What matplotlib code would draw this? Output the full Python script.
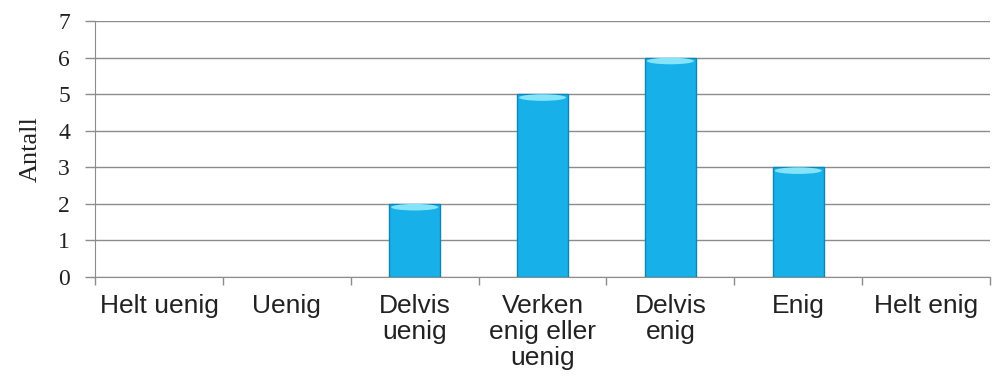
import numpy as np
import matplotlib.pyplot as plt
from matplotlib.patches import Ellipse

categories = ["Helt uenig", "Uenig", "Delvis\nuenig", "Verken\nenig eller\nuenig",
              "Delvis\nenig", "Enig", "Helt enig"]
counts = [0, 0, 2, 5, 6, 3, 0]
y_ticks = [0, 1, 2, 3, 4, 5, 6, 7]

grid_color = "#8c8c8c"
bar_color = "#17b0e8"
bar_edge = "#0d86b6"

fig = plt.figure(figsize=(9.95, 3.85), dpi=100)
ax = fig.add_axes([0.0955, 0.2805, 0.8995, 0.6645])

x = np.arange(len(categories))
bar_w = 0.40
edge_w = [1.0 if c > 0 else 0 for c in counts]
bars = ax.bar(x, counts, width=bar_w, color=bar_color, edgecolor=bar_edge,
              linewidth=edge_w, zorder=3)

# light cap on top of each bar
for rect, c in zip(bars, counts):
    if c <= 0:
        continue
    cx = rect.get_x() + rect.get_width() / 2
    ax.add_patch(Ellipse((cx, c - 0.09), rect.get_width() * 0.92, 0.18,
                         facecolor="#86e4fa", edgecolor="none", zorder=4))

ax.set_xlim(-0.5, len(categories) - 0.5)
ax.set_ylim(0, 7)

ax.set_yticks(y_ticks)
ax.set_yticklabels([str(v) for v in y_ticks], fontfamily="Liberation Serif",
                   fontsize=17, color="#222222")
ax.yaxis.grid(True, color=grid_color, linewidth=1.0, zorder=0)
ax.tick_params(axis="y", length=7, width=1, color=grid_color, pad=11)

# boundary ticks below the axis, labels centred on the categories
ax.set_xticks(np.arange(len(categories) + 1) - 0.5)
ax.set_xticklabels([])
ax.set_xticks(x, minor=True)
ax.set_xticklabels(categories, minor=True, fontfamily="Liberation Sans",
                   fontsize=19, color="#222222", linespacing=1.12)
ax.tick_params(axis="x", which="major", length=6, width=1, color=grid_color,
               direction="out")
ax.tick_params(axis="x", which="minor", length=0, pad=12)

for side in ["top", "right"]:
    ax.spines[side].set_visible(False)
ax.spines["left"].set_color(grid_color)
ax.spines["bottom"].set_color(grid_color)

ax.set_ylabel("Antall", fontfamily="Liberation Serif", fontsize=19,
              color="#222222", labelpad=12)

fig.savefig("out.png", dpi=100)
